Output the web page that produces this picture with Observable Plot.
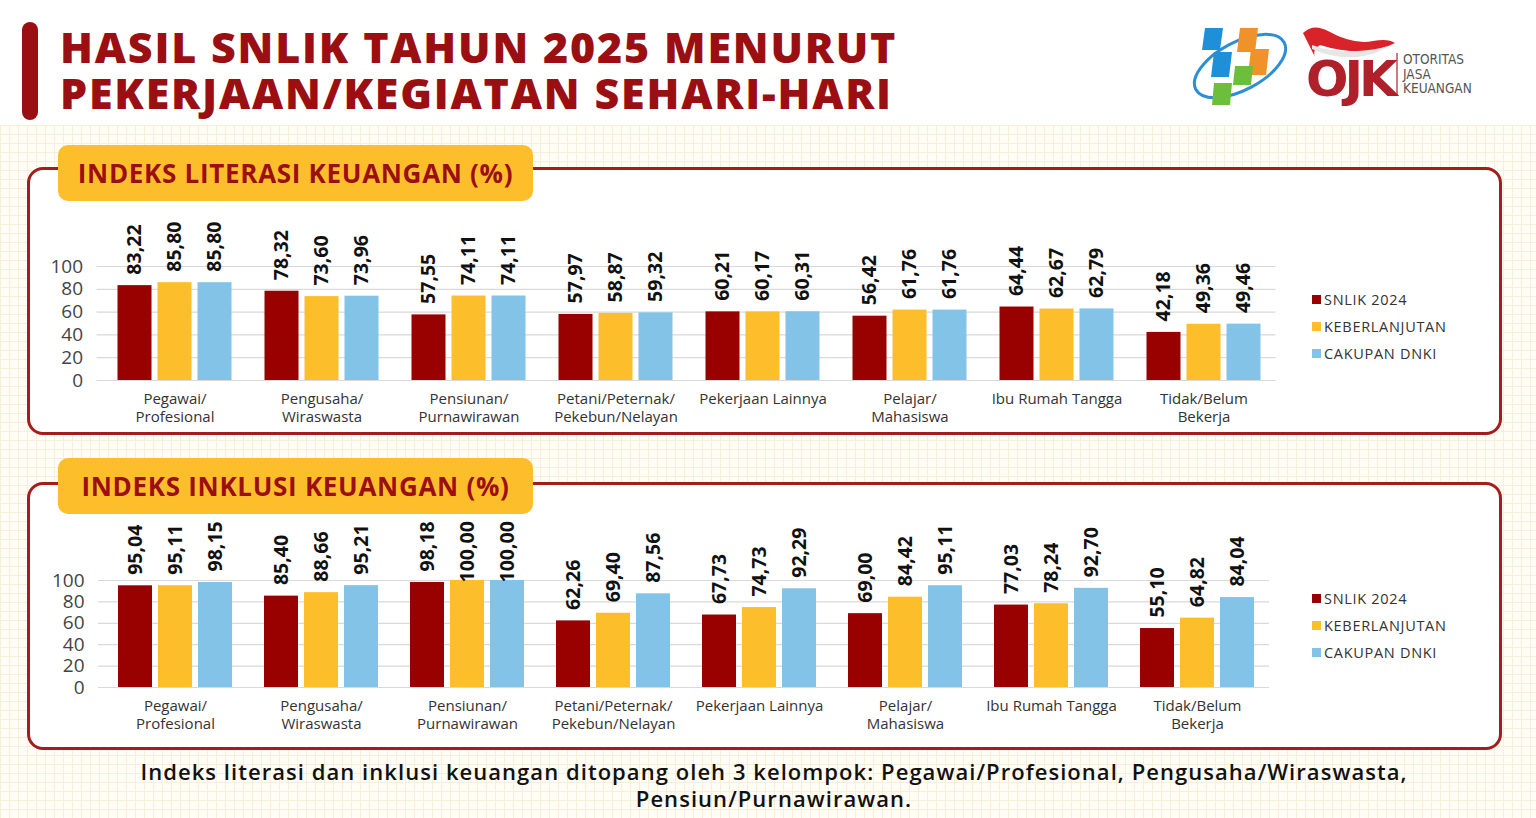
<!DOCTYPE html>
<html>
<head>
<meta charset="utf-8">
<script src="https://cdn.jsdelivr.net/npm/d3@7"></script>
<script src="https://cdn.jsdelivr.net/npm/@observablehq/plot@0.6"></script>
<style>
  html, body { margin: 0; padding: 0; }
  body { width: 1536px; height: 818px; position: relative; overflow: hidden; background: #ffffff; font-family: "Open Sans", sans-serif; }
  .bg { position: absolute; left: 0; top: 125px; width: 1536px; height: 693px; background-color: #fffdf4;
        background-image: linear-gradient(#f6efd6 1px, transparent 1px), linear-gradient(90deg, #f6efd6 1px, transparent 1px);
        background-size: 9px 9px; opacity: 0.9; }
  .bar { position: absolute; left: 22px; top: 22px; width: 16px; height: 98px; background: #9b0f12; border-radius: 8px; }
  .title { position: absolute; left: 60px; font-size: 43px; line-height: 46px; font-weight: 800; color: #9b0f12; letter-spacing: 1.8px; white-space: nowrap; }
  .panel { position: absolute; left: 27px; width: 1469px; height: 262px; border: 3px solid #a51c1c; border-radius: 16px; background: #ffffff; }
  .tab { position: absolute; left: 58px; width: 475px; height: 56px; background: #fdbe2c; border-radius: 10px; color: #9b0f12; font-weight: 700; font-size: 26px; letter-spacing: 0.7px; display: flex; align-items: center; justify-content: center; white-space: nowrap; }
  .chart { position: absolute; left: 0; }
  .legend { position: absolute; left: 1312px; font-size: 14.5px; color: #333; letter-spacing: 0.7px; }
  .legend div { height: 27px; display: flex; align-items: center; white-space: nowrap; }
  .legend span.sw { display: inline-block; width: 9px; height: 9px; margin-right: 3px; }
  .caption { position: absolute; left: 0; width: 1548px; top: 758px; text-align: center; font-size: 22px; line-height: 27px; font-weight: 600; color: #111; letter-spacing: 1.05px; }
</style>
</head>
<body>
<div class="bg"></div>
<div class="bar"></div>
<div class="title" style="top:24px">HASIL SNLIK TAHUN 2025 MENURUT</div>
<div class="title" style="top:70px">PEKERJAAN/KEGIATAN SEHARI-HARI</div>

<svg style="position:absolute;left:1180px;top:15px" width="320" height="100" viewBox="1180 15 320 100">
  <ellipse cx="1240" cy="66" rx="50" ry="24" transform="rotate(-28 1240 66)" fill="none" stroke="#2b8fd6" stroke-width="3"/>
  <path d="M1205 28 h18 l-3 22 h-18 z" fill="#1e90d8"/>
  <path d="M1214 52 h18 l-3 25 h-18 z" fill="#1e90d8"/>
  <path d="M1240 28 h18 l-3 24 h-18 z" fill="#f0922a"/>
  <path d="M1251 49 h18 l-3 26 h-18 z" fill="#f0922a"/>
  <path d="M1235 66 h18 l-2 19 h-18 z" fill="#6cbf3a"/>
  <path d="M1214 83 h18 l-2 22 h-18 z" fill="#6cbf3a"/>
  <path d="M1303 33 q10 -10 25 -2 q25 14 45 10 q15 -3 22 2 q-12 6 -25 8 q-25 2 -50 -6 q-8 5 -5 12 z" fill="#d9232a"/>
  <path d="M1312 45 q22 8 46 6 q18 -1 30 -5 q-10 8 -30 11 q-25 2 -46 -8 z" fill="#e6e6e6"/>
  <text x="1306" y="96" font-family="DejaVu Sans" font-weight="bold" font-size="50" fill="#b0202a" letter-spacing="-4">OJK</text>
  <line x1="1397" y1="53" x2="1397" y2="96" stroke="#b0202a" stroke-width="1.2"/>
  <text x="1403" y="64" font-family="DejaVu Sans Condensed, DejaVu Sans" font-size="13.5" fill="#555">OTORITAS</text>
  <text x="1403" y="78.5" font-family="DejaVu Sans Condensed, DejaVu Sans" font-size="13.5" fill="#555">JASA</text>
  <text x="1403" y="93" font-family="DejaVu Sans Condensed, DejaVu Sans" font-size="13.5" fill="#555">KEUANGAN</text>
</svg>

<div class="panel" style="top:167px"></div>
<div class="tab" style="top:145px">INDEKS LITERASI KEUANGAN (%)</div>
<div class="chart" id="grid1" style="top:210px"></div>
<div class="chart" id="chart1" style="top:210px"></div>
<div class="legend" id="legend1" style="top:286px"></div>

<div class="panel" style="top:482px"></div>
<div class="tab" style="top:458px">INDEKS INKLUSI KEUANGAN (%)</div>
<div class="chart" id="grid2" style="top:520px"></div>
<div class="chart" id="chart2" style="top:520px"></div>
<div class="legend" id="legend2" style="top:585px"></div>

<div class="caption">Indeks literasi dan inklusi keuangan ditopang oleh 3 kelompok: Pegawai/Profesional, Pengusaha/Wiraswasta,<br>Pensiun/Purnawirawan.</div>

<script>
const categories = ["Pegawai/\nProfesional", "Pengusaha/\nWiraswasta", "Pensiunan/\nPurnawirawan", "Petani/Peternak/\nPekebun/Nelayan", "Pekerjaan Lainnya", "Pelajar/\nMahasiswa", "Ibu Rumah Tangga", "Tidak/Belum\nBekerja"];
const series = ["SNLIK 2024", "KEBERLANJUTAN", "CAKUPAN DNKI"];
const seriesColors = ["#990000", "#fdbe2c", "#83c3e8"];
const yTicks = [0, 20, 40, 60, 80, 100];

const literasiSnlik2024 = [83.22, 78.32, 57.55, 57.97, 60.21, 56.42, 64.44, 42.18];
const literasiKeberlanjutan = [85.80, 73.60, 74.11, 58.87, 60.17, 61.76, 62.67, 49.36];
const literasiCakupanDnki = [85.80, 73.96, 74.11, 59.32, 60.31, 61.76, 62.79, 49.46];

const inklusiSnlik2024 = [95.04, 85.40, 98.18, 62.26, 67.73, 69.00, 77.03, 55.10];
const inklusiKeberlanjutan = [95.11, 88.66, 100.00, 69.40, 74.73, 84.42, 78.24, 64.82];
const inklusiCakupanDnki = [98.15, 95.21, 100.00, 87.56, 92.29, 95.11, 92.70, 84.04];

function toRows(arrays) {
  const rows = [];
  categories.forEach((c, i) => {
    series.forEach((s, j) => rows.push({category: c, series: s, value: arrays[j][i]}));
  });
  return rows;
}
const fmt = v => v.toFixed(2).replace(".", ",");

// Background layer: continuous horizontal grid and the y axis
function makeGrid(opts) {
  return Plot.plot({
    width: opts.width, height: opts.height,
    marginLeft: opts.marginLeft - 4, marginRight: opts.marginRight + 1, marginTop: opts.marginTop, marginBottom: opts.marginBottom,
    style: {fontFamily: "Open Sans", background: "transparent", overflow: "visible", color: "#444"},
    x: {domain: [0, 1], axis: null},
    y: {domain: [0, 100], axis: null},
    marks: [
      Plot.ruleY(yTicks, {stroke: "#d9d9d9", strokeWidth: 1.2}),
      Plot.axisY({ticks: yTicks, tickSize: 0, tickPadding: 14, fontSize: 19, label: null, fill: "#444"})
    ]
  });
}

// Foreground layer: grouped bars, value labels, category axis
function makeChart(rows, opts) {
  const labelCommon = {fx: "category", x: "series", y: "value", text: d => fmt(d.value), rotate: -90, textAnchor: "start",
    fontWeight: 700, fontSize: 19.5, fill: "#111", fontFamily: "Open Sans"};
  return Plot.plot({
    width: opts.width, height: opts.height,
    marginLeft: opts.marginLeft, marginRight: opts.marginRight, marginTop: opts.marginTop, marginBottom: opts.marginBottom,
    style: {fontFamily: "Open Sans", background: "transparent", overflow: "visible", color: "#333"},
    fx: {domain: categories, paddingInner: 0.22, paddingOuter: 0.11, label: null},
    x: {domain: series, paddingInner: 0.15, paddingOuter: 0, axis: null},
    y: {domain: [0, 100], axis: null},
    color: {domain: series, range: seriesColors},
    marks: [
      Plot.barY(rows, {fx: "category", x: "series", y: "value", fill: "series"}),
      Plot.text(rows.filter(d => d.value < 99), {...labelCommon, dy: -11}),
      Plot.text(rows.filter(d => d.value >= 99), {...labelCommon, dy: 2}),
      Plot.axisFx({anchor: "bottom", tickSize: 0, tickPadding: 11, fontSize: 15, lineHeight: 1.2, label: null, fill: "#333"})
    ]
  });
}

const opts1 = {width: 1280, height: 225, marginLeft: 100.5, marginRight: 3.5, marginTop: 56, marginBottom: 55};
const opts2 = {width: 1276, height: 225, marginLeft: 102, marginRight: 6, marginTop: 60, marginBottom: 58};

document.getElementById("grid1").append(makeGrid(opts1));
document.getElementById("chart1").append(makeChart(toRows([literasiSnlik2024, literasiKeberlanjutan, literasiCakupanDnki]), opts1));
document.getElementById("grid2").append(makeGrid(opts2));
document.getElementById("chart2").append(makeChart(toRows([inklusiSnlik2024, inklusiKeberlanjutan, inklusiCakupanDnki]), opts2));

for (const id of ["legend1", "legend2"]) {
  const el = document.getElementById(id);
  series.forEach((s, i) => {
    const row = document.createElement("div");
    const sw = document.createElement("span");
    sw.className = "sw";
    sw.style.background = seriesColors[i];
    row.append(sw, document.createTextNode(s));
    el.append(row);
  });
}
</script>
</body>
</html>
